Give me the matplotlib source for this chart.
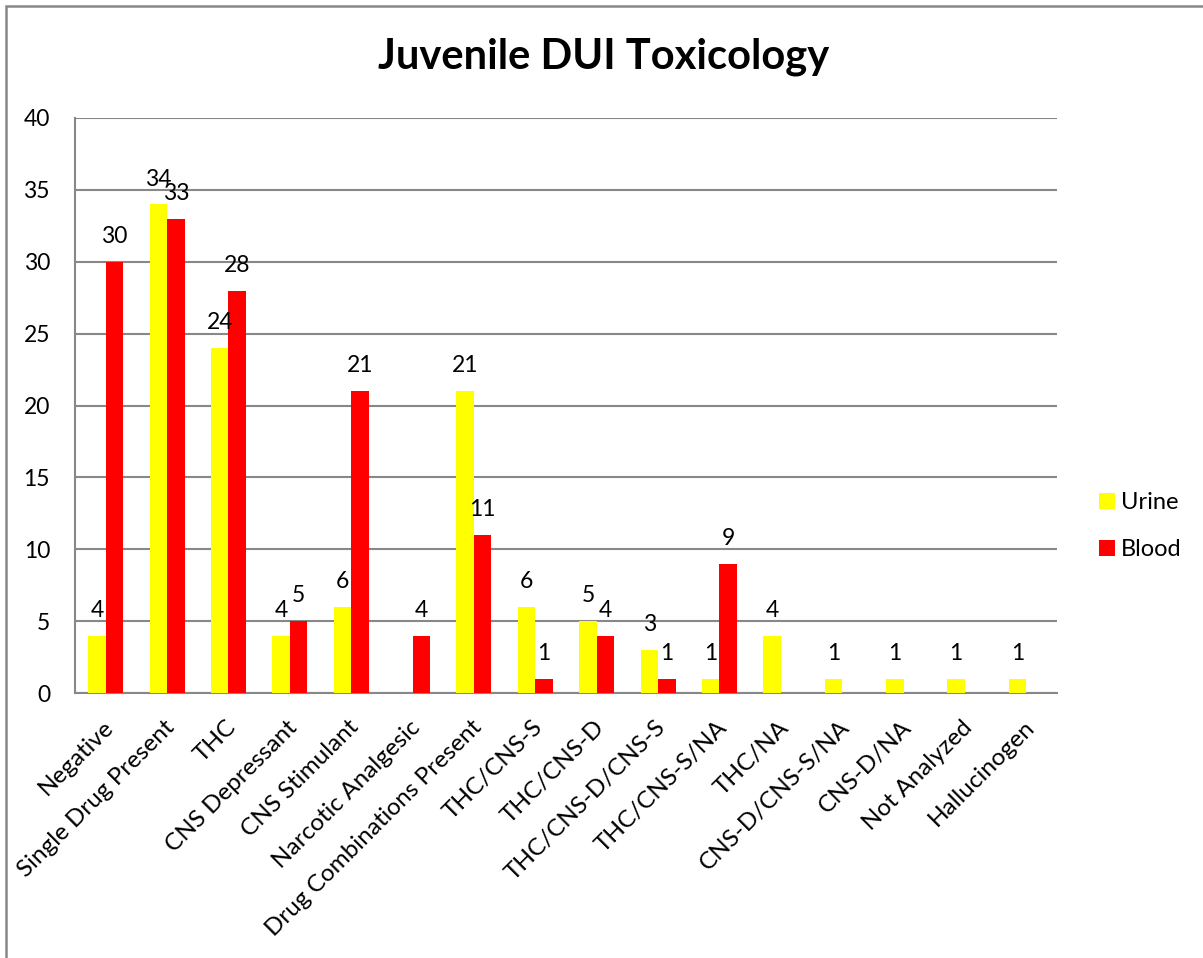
import matplotlib
matplotlib.use("Agg")
import matplotlib.pyplot as plt
import matplotlib.transforms as mtransforms
import numpy as np
from matplotlib.patches import Rectangle

plt.rcParams['font.family'] = ['Lato', 'DejaVu Sans']

categories = ["Negative", "Single Drug Present", "THC", "CNS Depressant", "CNS Stimulant",
              "Narcotic Analgesic", "Drug Combinations Present", "THC/CNS-S", "THC/CNS-D",
              "THC/CNS-D/CNS-S", "THC/CNS-S/NA", "THC/NA", "CNS-D/CNS-S/NA", "CNS-D/NA",
              "Not Analyzed", "Hallucinogen"]
urine = [4, 34, 24, 4, 6, None, 21, 6, 5, 3, 1, 4, 1, 1, 1, 1]
blood = [30, 33, 28, 5, 21, 4, 11, 1, 4, 1, 9, None, None, None, None, None]
series_names = ["Urine", "Blood"]
colors = ["#FFFF00", "#FF0000"]
title = "Juvenile DUI Toxicology"

W, H = 1203, 958
fig = plt.figure(figsize=(W / 100, H / 100), dpi=100)
ax = fig.add_axes([75 / W, 1 - 693 / H, (1057 - 75) / W, (693 - 118) / H])

FS_NUM = 16.5
FS_CAT = 17.5
x = np.arange(len(categories))
bw = 0.285
for i, (vals, name, c) in enumerate(zip([urine, blood], series_names, colors)):
    xs = [xi + (i - 0.5) * bw for xi, v in zip(x, vals) if v is not None]
    vs = [v for v in vals if v is not None]
    ax.bar(xs, vs, width=bw, color=c, label=name, zorder=3)
    for xx, vv in zip(xs, vs):
        ax.annotate(str(vv), (xx, vv), xytext=(0, 13.5), textcoords='offset points',
                    ha='center', va='baseline', fontsize=FS_NUM, zorder=4)

ax.set_xlim(-0.5, len(categories) - 0.5)
ax.set_ylim(0, 40)
ax.set_yticks(range(0, 41, 5))
ax.yaxis.grid(True, color='#888888', linewidth=1.5, zorder=0)
ax.set_axisbelow(True)
for s in ['top', 'right']:
    ax.spines[s].set_visible(False)
ax.spines['left'].set_color('#888888')
ax.spines['left'].set_linewidth(1.5)
ax.spines['bottom'].set_color('#888888')
ax.spines['bottom'].set_linewidth(1.5)
ax.tick_params(axis='both', length=0)
ax.tick_params(axis='y', pad=18, labelsize=FS_NUM)
ax.set_xticks(x)
ax.set_xticklabels(categories, rotation=45, ha='right', va='top', rotation_mode='anchor',
                   fontsize=FS_CAT)
ax.tick_params(axis='x', pad=17)
shift = mtransforms.ScaledTranslation(-3 / 100, 0, fig.dpi_scale_trans)
for lab in ax.get_xticklabels():
    lab.set_transform(lab.get_transform() + shift)

fig.text(604 / W, 1 - 57 / H, title, ha='center', va='center', fontsize=30, fontweight='bold')

leg = fig.legend(loc='upper left', bbox_to_anchor=(1099 / W, 1 - 492 / H), frameon=False,
                 fontsize=17, handlelength=0.68, handleheight=0.68, handletextpad=0.25,
                 labelspacing=1.1, borderpad=0, borderaxespad=0)

# outer frame
fig.add_artist(Rectangle((6 / W, -0.1), 1.2, 1 - 6 / H + 0.1, transform=fig.transFigure,
                         fill=False, edgecolor='#888888', linewidth=1.8))

fig.savefig("out.png", dpi=100)
